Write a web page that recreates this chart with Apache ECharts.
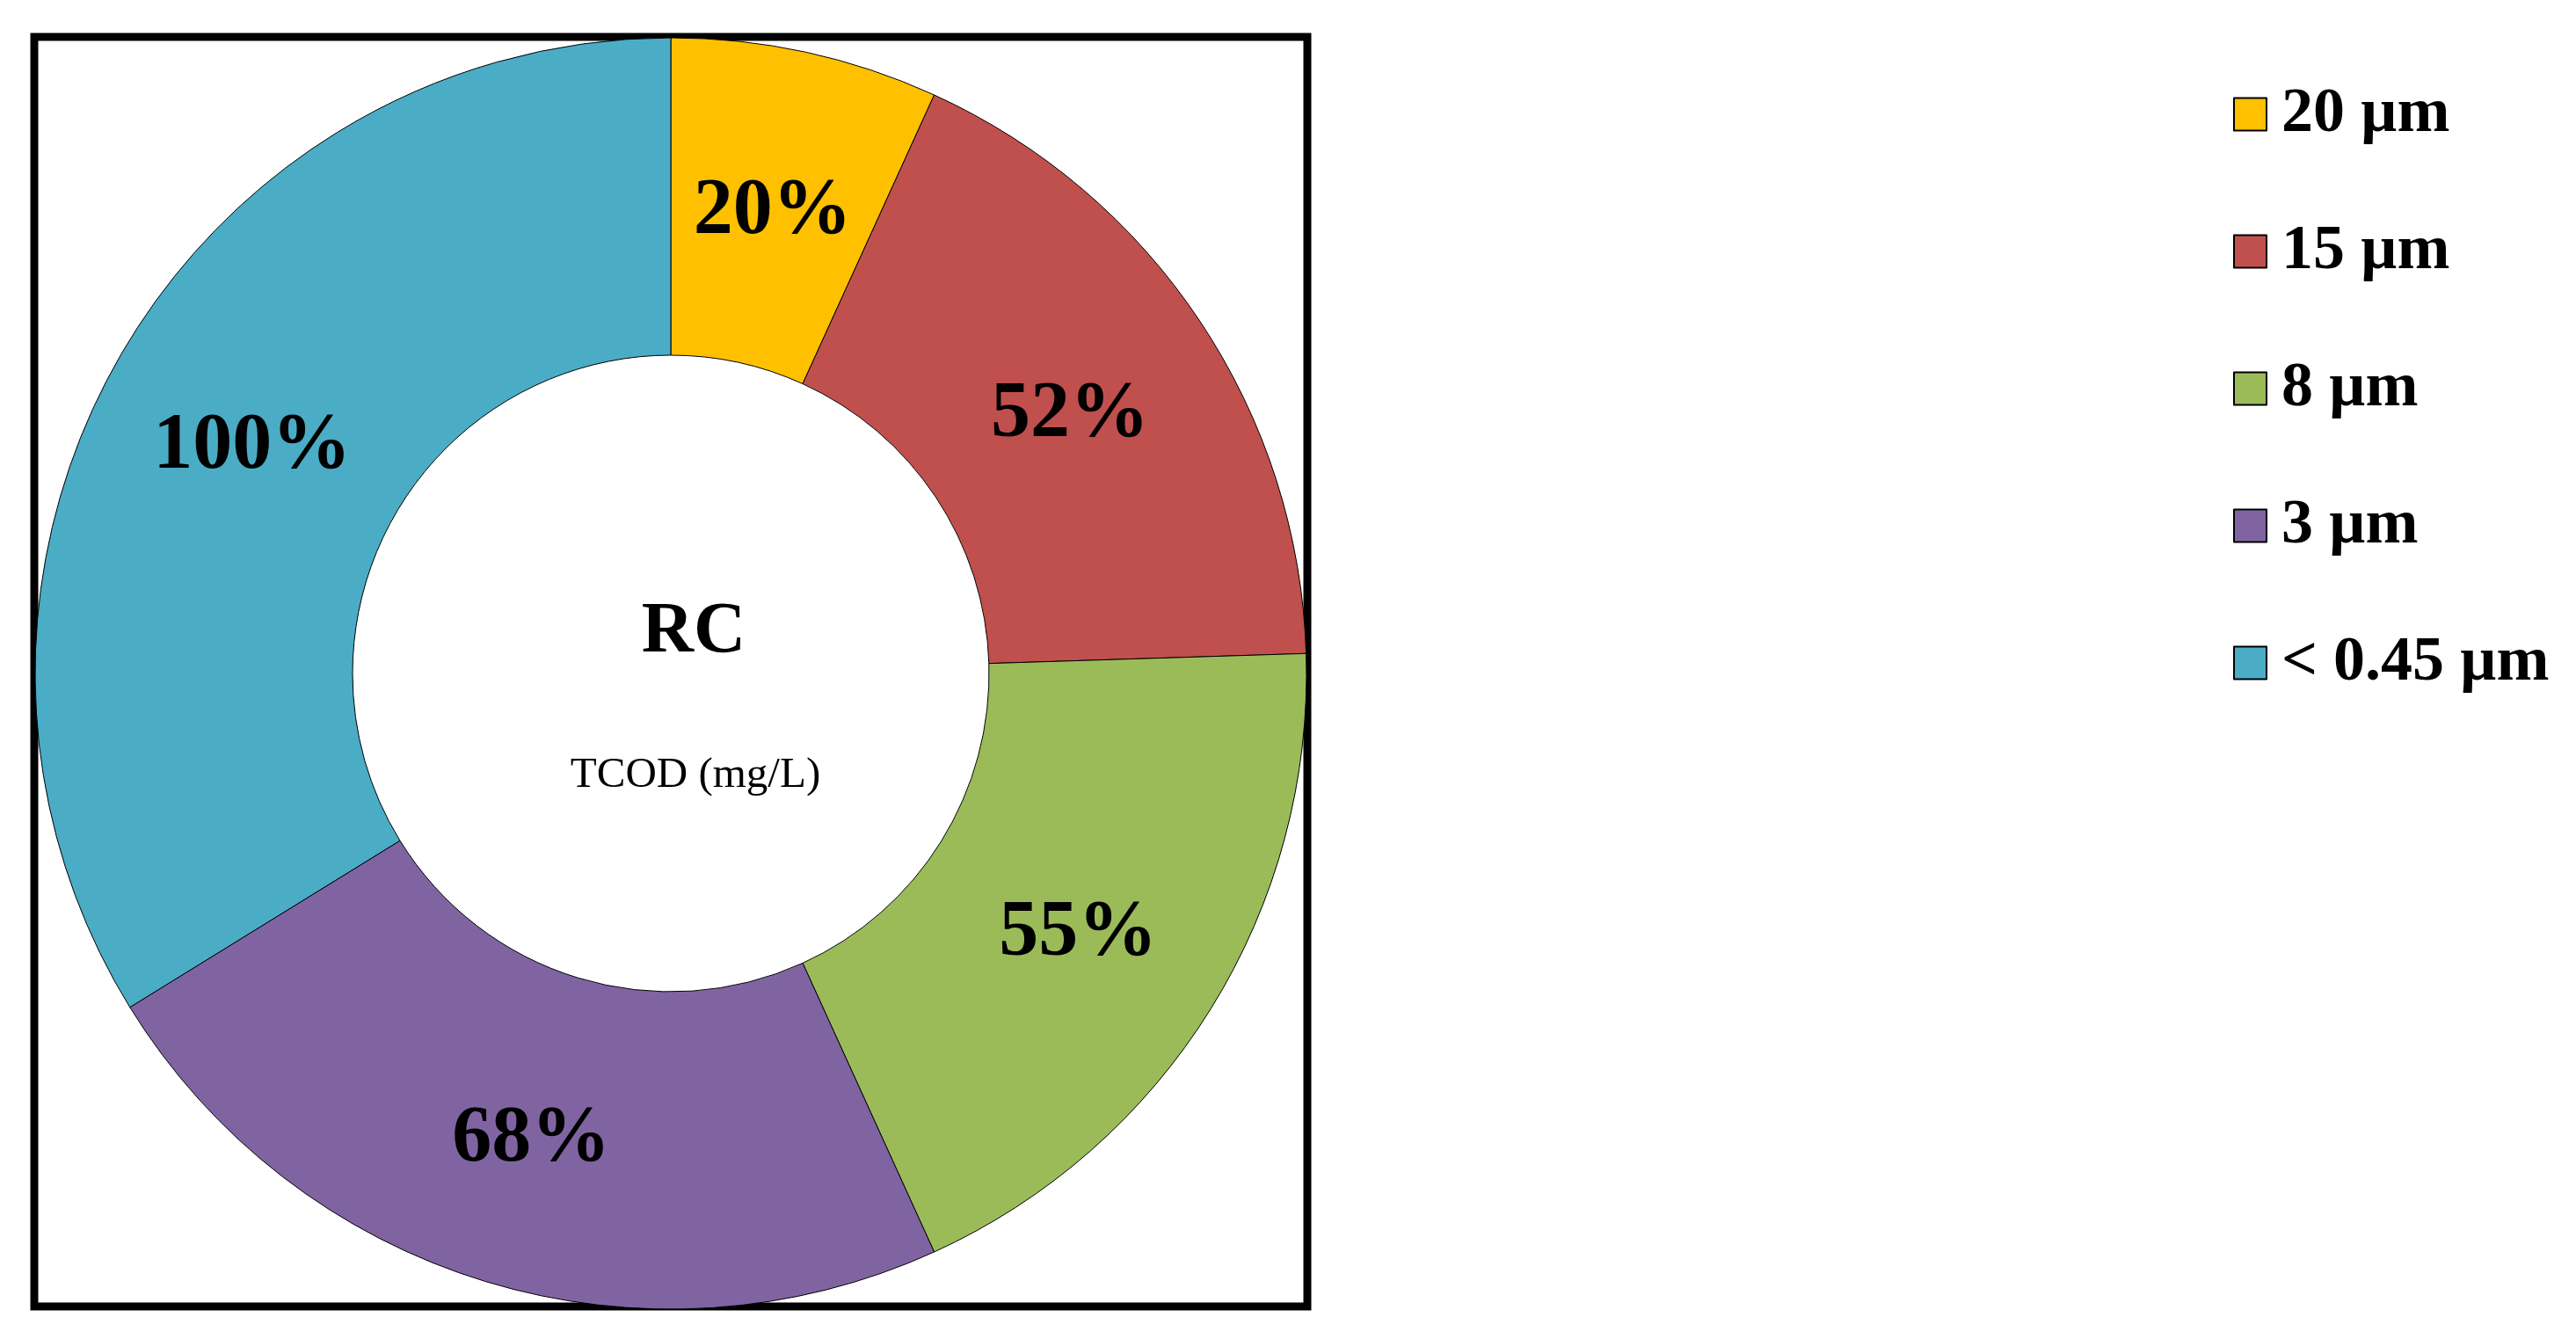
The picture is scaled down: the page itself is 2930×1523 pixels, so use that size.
<!DOCTYPE html>
<html>
<head>
<meta charset="utf-8">
<script src="https://cdn.jsdelivr.net/npm/echarts@6/dist/echarts.min.js"></script>
<style>
  html, body { margin: 0; padding: 0; background: #fff; }
  #chart { width: 2930px; height: 1523px; }
</style>
</head>
<body>
<div id="chart"></div>
<script>
var chart = echarts.init(document.getElementById('chart'));

// fractions (size of each ring slice)
var sizes = ['20 µm', '15 µm', '8 µm', '3 µm', '< 0.45 µm'];
var shares = [6.8, 17.7, 18.7, 23.0, 33.8];
// cumulative percentages printed on the slices
var cumLabels = ['20%', '52%', '55%', '68%', '100%'];
var colors = ['#FFC000', '#C0504D', '#9BBB59', '#8064A2', '#4BACC6'];

var serif = '"Liberation Serif", "Times New Roman", serif';

var pieData = [];
for (var i = 0; i < sizes.length; i++) {
    pieData.push({
        name: sizes[i],
        value: shares[i],
        itemStyle: { color: colors[i] }
    });
}

var option = {
    animation: false,
    backgroundColor: '#fff',
    legend: {
        orient: 'vertical',
        left: 2535,
        top: 89,
        itemWidth: 37,
        itemHeight: 37,
        itemGap: 84,
        icon: 'rect',
        selectedMode: false,
        data: sizes,
        textStyle: {
            fontFamily: serif,
            fontWeight: 'bold',
            fontSize: 72,
            color: '#000',
            padding: [0, 0, 0, 12]
        }
    },
    graphic: [
        {
            type: 'rect',
            z: 0,
            shape: { x: 39, y: 42, width: 1448, height: 1444 },
            style: { fill: 'none', stroke: '#000', lineWidth: 9 }
        },
        {
            type: 'text',
            z: 100,
            x: 789, y: 720,
            style: {
                text: 'RC',
                fontFamily: serif, fontWeight: 'bold', fontSize: 82,
                fill: '#000', align: 'center', verticalAlign: 'middle'
            }
        },
        {
            type: 'text',
            z: 100,
            x: 791, y: 882,
            style: {
                text: 'TCOD (mg/L)',
                fontFamily: serif, fontSize: 49,
                fill: '#000', align: 'center', verticalAlign: 'middle'
            }
        }
    ],
    series: [{
        type: 'pie',
        center: [763, 766],
        radius: [362, 723],
        startAngle: 90,
        clockwise: true,
        avoidLabelOverlap: false,
        emphasis: { disabled: true },
        itemStyle: { borderColor: '#000', borderWidth: 1 },
        label: {
            show: true,
            position: 'inside',
            offset: [0, 9],
            formatter: function (p) { return cumLabels[p.dataIndex]; },
            fontFamily: serif,
            fontWeight: 'bold',
            fontSize: 90,
            color: '#000'
        },
        labelLine: { show: false },
        data: pieData
    }]
};

chart.setOption(option);
</script>
</body>
</html>
